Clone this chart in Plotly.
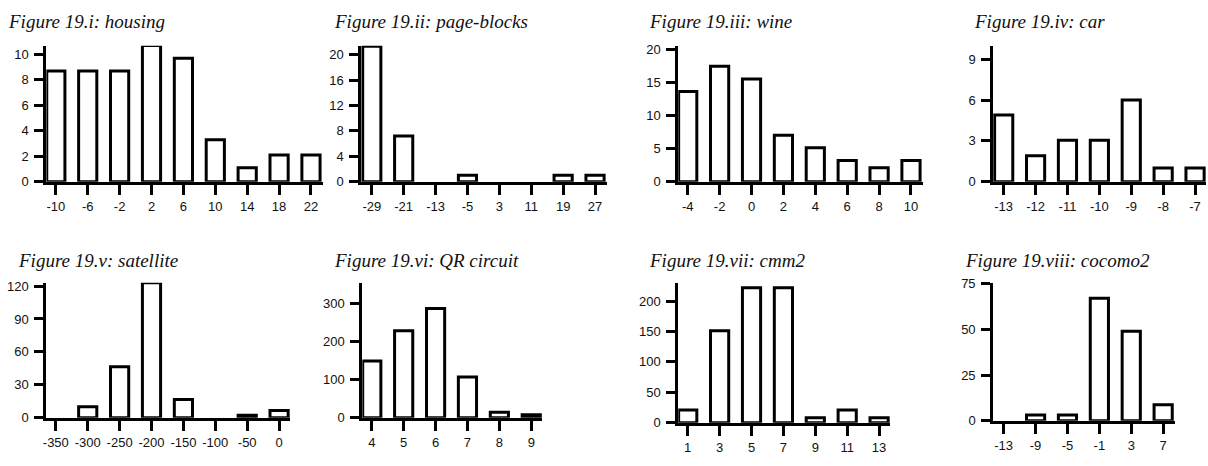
import plotly.graph_objects as go

# ---------------- data ----------------
housing_labels = ["-10", "-6", "-2", "2", "6", "10", "14", "18", "22"]
housing_values = [8.7, 8.7, 8.7, 10.7, 9.7, 3.3, 1.1, 2.1, 2.1]

pageblocks_labels = ["-29", "-21", "-13", "-5", "3", "11", "19", "27"]
pageblocks_values = [21.3, 7.2, 0, 1.0, 0, 0, 1.0, 1.0]

wine_labels = ["-4", "-2", "0", "2", "4", "6", "8", "10"]
wine_values = [13.6, 17.4, 15.5, 7.0, 5.1, 3.2, 2.1, 3.2]

car_labels = ["-13", "-12", "-11", "-10", "-9", "-8", "-7"]
car_values = [4.9, 1.9, 3.05, 3.05, 6.0, 1.0, 1.0]

satellite_labels = ["-350", "-300", "-250", "-200", "-150", "-100", "-50", "0"]
satellite_values = [0, 10.2, 46.5, 122.9, 16.6, 0, 2.3, 6.7]

qr_labels = ["4", "5", "6", "7", "8", "9"]
qr_values = [149, 229, 287, 107, 15, 8]

cmm2_labels = ["1", "3", "5", "7", "9", "11", "13"]
cmm2_values = [21, 151, 222, 222, 8, 21, 8]

cocomo2_labels = ["-13", "-9", "-5", "-1", "3", "7"]
cocomo2_values = [0, 3.1, 3.1, 67.1, 49, 8.7]

titles = ["Figure 19.i: housing", "Figure 19.ii: page-blocks", "Figure 19.iii: wine",
          "Figure 19.iv: car", "Figure 19.v: satellite", "Figure 19.vi: QR circuit",
          "Figure 19.vii: cmm2", "Figure 19.viii: cocomo2"]
y_ticks = [[0, 2, 4, 6, 8, 10], [0, 4, 8, 12, 16, 20], [0, 5, 10, 15, 20], [0, 3, 6, 9],
           [0, 30, 60, 90, 120], [0, 100, 200, 300], [0, 50, 100, 150, 200], [0, 25, 50, 75]]
y_max = [10.68, 21.4, 20.5, 10.0, 122.9, 354.5, 230, 75.5]

labels_all = [housing_labels, pageblocks_labels, wine_labels, car_labels,
              satellite_labels, qr_labels, cmm2_labels, cocomo2_labels]
values_all = [housing_values, pageblocks_values, wine_values, car_values,
              satellite_values, qr_values, cmm2_values, cocomo2_values]

# ---------------- layout geometry (pixels) ----------------
W, H = 1208, 466
STEP = 32.0
# (y-axis x, first tick x, axis end x, zero y, top y, title x, title y)
geom = [
    (41, 52, 320, 182, 40, 3, 15),
    (357, 369, 605, 182, 40, 330, 15),
    (675, 686, 922, 182, 40, 646, 15),
    (991, 1003, 1206, 182, 40, 972, 15),
    (41, 52, 287, 426, 285, 13, 262),
    (358, 369, 540, 426, 285, 330, 262),
    (675, 686, 889, 431, 285, 646, 262),
    (991, 1003, 1175, 429, 285, 963, 262),
]

fig = go.Figure()
layout = dict(
    width=W, height=H, margin=dict(l=0, r=0, t=0, b=0),
    paper_bgcolor="white", plot_bgcolor="white", showlegend=False,
    annotations=[],
)

tickfont = dict(family="Liberation Sans, Arial, sans-serif", size=13, color="#111111")

for i in range(8):
    ax_x, t0, x_end, y0, ytop, tx, ty = geom[i]
    n = len(labels_all[i])
    sfx = "" if i == 0 else str(i + 1)
    left_px = ax_x + 1.5
    last_tick = t0 + STEP * (n - 1)
    xr = [-(t0 - left_px) / STEP, (n - 1) + (x_end - last_tick) / STEP]
    bottom_px = y0 - 1.5
    vals = [v if v > 0 else None for v in values_all[i]]

    fig.add_trace(go.Bar(
        x=list(range(n)), y=vals, width=0.57,
        marker=dict(color="white", line=dict(color="black", width=3)),
        xaxis="x" + sfx, yaxis="y" + sfx, cliponaxis=False, hoverinfo="skip",
    ))
    layout["xaxis" + sfx] = dict(
        domain=[left_px / W, x_end / W], range=xr, anchor="y" + sfx,
        tickmode="array", tickvals=list(range(n)), ticktext=labels_all[i],
        showline=True, linewidth=3, linecolor="black",
        ticks="outside", ticklen=10, tickwidth=3, tickcolor="black",
        showgrid=False, zeroline=False, tickfont=tickfont, ticklabelstandoff=1,
        fixedrange=True,
    )
    layout["yaxis" + sfx] = dict(
        domain=[1 - bottom_px / H, 1 - ytop / H], range=[0, y_max[i]], anchor="x" + sfx,
        tickmode="array", tickvals=y_ticks[i],
        showline=True, linewidth=3, linecolor="black",
        ticks="outside", ticklen=9, tickwidth=3, tickcolor="black",
        showgrid=False, zeroline=False, tickfont=tickfont, ticklabelstandoff=3,
        fixedrange=True,
    )
    layout["annotations"].append(dict(
        text="<i>" + titles[i] + "</i>", xref="paper", yref="paper",
        x=tx / W, y=1 - ty / H, xanchor="left", yanchor="middle", showarrow=False,
        borderpad=0,
        font=dict(family="Liberation Serif, Times New Roman, serif", size=19, color="#111111"),
    ))

fig.update_layout(**layout)
fig.write_html("out.html", config={"displayModeBar": False},
               post_script="document.body.style.margin='0px';")
